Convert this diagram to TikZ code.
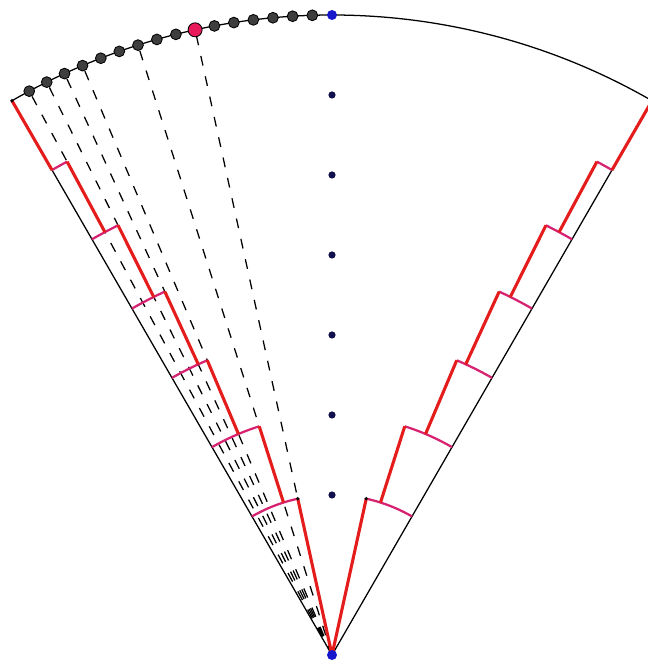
\documentclass[tikz,border=0pt]{standalone}
\usepackage{xcolor}
\usepackage{tikz}
\usetikzlibrary{calc}
\definecolor{riserred}{RGB}{228,28,28}
\definecolor{treadpink}{RGB}{214,34,112}
\definecolor{beadgray}{RGB}{62,62,62}
\definecolor{hitpink}{RGB}{232,26,92}
\definecolor{tipblue}{RGB}{22,22,205}
\definecolor{axisnavy}{RGB}{16,16,78}
\tikzset{
  rim/.style={black, line width=0.45pt},
  ray/.style={black, line width=0.45pt, dash pattern=on 3.5pt off 3.9pt},
  riser/.style={riserred, line width=1.1pt},
  tread/.style={treadpink, line width=0.8pt},
  bead/.style={circle, draw=black, fill=beadgray, line width=0.3pt, minimum size=1.35mm, inner sep=0pt},
  hitbead/.style={bead, fill=hitpink, minimum size=1.75mm},
  tipdot/.style={circle, fill=tipblue, minimum size=1.25mm, inner sep=0pt},
  axisdot/.style={circle, fill=axisnavy, minimum size=0.9mm, inner sep=0pt},
  corner/.style={circle, fill=black, minimum size=0.45mm, inner sep=0pt}
}

\begin{document}
\begin{tikzpicture}
        \useasboundingbox (-4.15,-0.075) rectangle (3.9375,8.1875);
        \coordinate (O) at (0,0);
        \coordinate (L) at (120:8);
        \coordinate (R) at (60:8);
        \foreach \k in {0,...,16}
          \coordinate (p\k) at ({90+\k*30/17}:8);
        \draw[rim] (O) -- (L);
        \draw[rim] (O) -- (R);
        \draw[rim] (L) arc[start angle=120, end angle=60, radius=8];
        \foreach \k in {7,10,13,14,15,16}
          \draw[ray] (O) -- (p\k);
        \foreach \k/\ri/\ro [evaluate=\k as \al using 90+\k*30/17,
                             evaluate=\k as \ar using 90-\k*30/17] in
            {7/0/2, 10/2/3, 13/3/4, 14/4/5, 15/5/6, 16/6/7, 17/7/8} {
          \coordinate (ll\k) at (\al:\ri); \coordinate (lh\k) at (\al:\ro);
          \coordinate (rl\k) at (\ar:\ri); \coordinate (rh\k) at (\ar:\ro);
          \ifnum\ro<8
            \draw[tread] (lh\k) arc[start angle=\al, end angle=120, radius=\ro];
            \draw[tread] (rh\k) arc[start angle=\ar, end angle=60, radius=\ro];
          \fi
          \draw[riser] (ll\k) -- (lh\k);
          \draw[riser] (rl\k) -- (rh\k);
        }
        \node[corner] (cl) at (L) {};
        \node[corner] (c7l) at (lh7) {};
        \node[corner] (c7r) at (rh7) {};
        \foreach \k in {1,...,6,8,9,...,16}
          \node[bead] (b\k) at (p\k) {};
        \node[hitbead] (b7) at (p7) {};
        \node[tipdot] (top) at (p0) {};
        \foreach \r in {2,...,7}
          \node[axisdot] (a\r) at (90:\r) {};
        \node[tipdot] (apex) at (O) {};
      \end{tikzpicture}
\end{document}
